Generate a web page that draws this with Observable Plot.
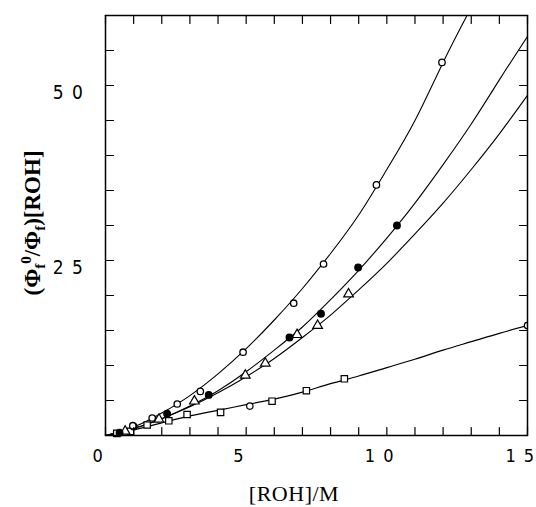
<!DOCTYPE html>
<html><head><meta charset="utf-8">
<script src="https://cdn.jsdelivr.net/npm/d3@7"></script>
<script src="https://cdn.jsdelivr.net/npm/@observablehq/plot@0.6"></script>
<style>body{margin:0;background:#fff}</style>
</head><body><div id="chart"></div>
<script>
// Tick values and labels
const xTickValues = [0, 5, 10, 15];
const xTickLabels = ["0", "5", "1 0", "1 5"];
const yTickValues = [25, 50];
const yTickLabels = ["2 5", "5 0"];
const xMinorTicks = [0,1,2,3,4,5,6,7,8,9,10,11,12,13,14,15];
const yMinorTicks = [0,5,10,15,20,25,30,35,40,45,50,55,60];

// Open circles (upper series)
const openCircX = [0.97, 1.66, 2.55, 3.37, 4.89, 6.69, 7.75, 9.63, 11.96];
const openCircY = [1.4, 2.5, 4.5, 6.3, 11.9, 18.9, 24.5, 35.8, 53.3];
const openCurveX = [0, 1, 2, 3, 4, 5, 6, 7, 8, 9, 10, 11, 12, 12.85];
const openCurveY = [0, 1.2, 3.2, 5.7, 8.8, 12.4, 16.5, 21, 26, 31.5, 38, 45, 53.3, 60];

// Filled circles
const fillCircX = [0.5, 1.0, 2.19, 3.67, 6.54, 7.66, 8.98, 10.36];
const fillCircY = [0.4, 1.3, 3.1, 5.8, 14.0, 17.4, 24.0, 30.0];
const fillCurveX = [0, 1, 2, 3, 4, 5, 6, 7, 8, 9, 10, 11, 12, 13, 14, 15];
const fillCurveY = [0, 1.0, 2.4, 4.2, 6.4, 9.1, 12.2, 15.5, 19.4, 23.6, 28.2, 33.2, 38.7, 44.5, 50.8, 57];

// Open triangles
const triX = [0.7, 1.9, 3.16, 4.97, 5.68, 6.81, 7.54, 8.64];
const triY = [0.6, 2.3, 4.9, 8.6, 10.3, 14.4, 15.7, 20.2];
const triCurveX = [0, 1, 2, 3, 4, 5, 6, 7, 8, 9, 10, 11, 12, 13, 14, 15];
const triCurveY = [0, 1.0, 2.4, 4.1, 6.1, 8.4, 11.0, 14.0, 17.2, 20.8, 24.6, 28.8, 33.2, 38, 43.1, 48.6];

// Open squares (lowest series)
const sqX = [0.4, 0.89, 1.48, 2.25, 2.9, 4.09, 5.92, 7.14, 8.49];
const sqY = [0.3, 0.6, 1.5, 2.1, 3.0, 3.3, 4.9, 6.4, 8.1];
const sqCircX = [5.13, 15];
const sqCircY = [4.2, 15.7];
const sqCurveX = [0, 1, 2, 3, 4, 5, 6, 7, 8, 9, 10, 11, 12, 13, 14, 15];
const sqCurveY = [0, 0.8, 1.8, 2.8, 3.6, 4.4, 5.2, 6.2, 7.4, 8.5, 9.7, 10.9, 12.2, 13.4, 14.6, 15.7];

const pts = (X, Y) => X.map((x, i) => ({x, y: Y[i]}));
const tickShape = {draw(context, l) { context.moveTo(0, 0); context.lineTo(0, -l); }};
const tickLen = 8;
const tickFont = "'Liberation Sans Narrow', 'DejaVu Sans Condensed', sans-serif";

const chart = Plot.plot({
  width: 536, height: 507,
  marginLeft: 105, marginRight: 9, marginTop: 15, marginBottom: 72,
  x: {domain: [0, 15]},
  y: {domain: [0, 60]},
  marks: [
    Plot.line(pts(sqCurveX, sqCurveY), {x: "x", y: "y", curve: "natural", stroke: "black", strokeWidth: 1.2, clip: true}),
    Plot.line(pts(triCurveX, triCurveY), {x: "x", y: "y", curve: "natural", stroke: "black", strokeWidth: 1.1, clip: true}),
    Plot.line(pts(fillCurveX, fillCurveY), {x: "x", y: "y", curve: "natural", stroke: "black", strokeWidth: 1.1, clip: true}),
    Plot.line(pts(openCurveX, openCurveY), {x: "x", y: "y", curve: "natural", stroke: "black", strokeWidth: 1.1, clip: true}),
    Plot.dot(pts(sqX, sqY), {x: "x", y: "y", symbol: "square", r: 3.6, stroke: "black", fill: "white", strokeWidth: 1.2}),
    Plot.dot(pts(sqCircX, sqCircY), {x: "x", y: "y", r: 3.2, stroke: "black", fill: "white", strokeWidth: 1.2, clip: true}),
    Plot.dot(pts(triX, triY), {x: "x", y: "y", symbol: "triangle", r: 3.6, stroke: "black", fill: "white", strokeWidth: 1.2}),
    Plot.dot(pts(fillCircX, fillCircY), {x: "x", y: "y", r: 3.2, fill: "black", stroke: "black"}),
    Plot.dot(pts(openCircX, openCircY), {x: "x", y: "y", r: 3.2, stroke: "black", fill: "white", strokeWidth: 1.3}),
    // inward ticks on all four sides
    Plot.vector(xMinorTicks, {x: d => d, frameAnchor: "bottom", rotate: 0, length: tickLen, anchor: "start", shape: tickShape, stroke: "black", strokeWidth: 1.2}),
    Plot.vector(xMinorTicks, {x: d => d, frameAnchor: "top", rotate: 180, length: tickLen, anchor: "start", shape: tickShape, stroke: "black", strokeWidth: 1.2}),
    Plot.vector(yMinorTicks, {y: d => d, frameAnchor: "left", rotate: 90, length: tickLen, anchor: "start", shape: tickShape, stroke: "black", strokeWidth: 1.2}),
    Plot.vector(yMinorTicks, {y: d => d, frameAnchor: "right", rotate: -90, length: tickLen, anchor: "start", shape: tickShape, stroke: "black", strokeWidth: 1.2}),
    Plot.frame({stroke: "black", strokeWidth: 1.5}),
    Plot.axisX(xTickValues, {tickSize: 0, tickPadding: 14, dx: -7, label: null,
      tickFormat: d => xTickLabels[xTickValues.indexOf(d)],
      fontSize: 18, fontFamily: tickFont, fill: "black"}),
    Plot.axisY(yTickValues, {tickSize: 0, tickPadding: 21, dy: 7, label: null,
      tickFormat: d => yTickLabels[yTickValues.indexOf(d)],
      fontSize: 19, fontFamily: tickFont, fill: "black"})
  ]
});

const svg = d3.select(chart);
svg.selectAll("[aria-label='x-axis tick label'] text, [aria-label='y-axis tick label'] text")
  .attr("letter-spacing", "1.5px");

// Y axis title with sub/superscripts
const yt = svg.append("text")
  .attr("transform", "translate(40,223) rotate(-90)")
  .attr("text-anchor", "middle")
  .attr("font-family", "'Liberation Serif', 'DejaVu Serif', serif")
  .attr("font-weight", "bold")
  .attr("font-size", 23)
  .attr("fill", "black");
yt.append("tspan").text("(Φ");
yt.append("tspan").attr("dy", 5).attr("font-size", 15).text("f");
yt.append("tspan").attr("dy", -14).attr("font-size", 15).text("0");
yt.append("tspan").attr("dy", 9).text("/Φ");
yt.append("tspan").attr("dy", 5).attr("font-size", 15).text("f");
yt.append("tspan").attr("dy", -5).text(")[ROH]");

// X axis title
svg.append("text")
  .attr("x", 294).attr("y", 501)
  .attr("text-anchor", "middle")
  .attr("font-family", "'Liberation Serif', 'DejaVu Serif', serif")
  .attr("font-size", 22)
  .attr("letter-spacing", "0.5px")
  .attr("fill", "black")
  .text("[ROH]/M");

document.getElementById("chart").appendChild(chart);
</script>
</body></html>
